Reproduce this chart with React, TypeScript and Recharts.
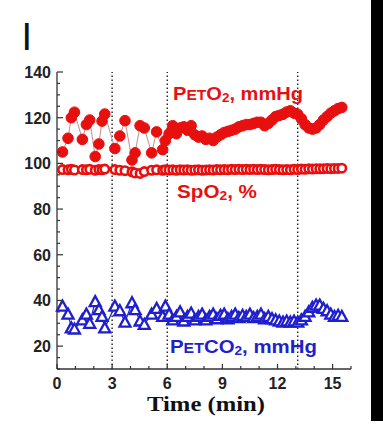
import React from 'react';
import { ComposedChart, Line, XAxis, YAxis, ReferenceLine } from 'recharts';

// time (min) of each breath sample
const time = [
    0.3, 0.6, 0.78, 0.95, 1.38, 1.6, 1.78, 2.08, 2.28, 2.45, 2.6, 3.15, 3.42, 3.7, 4.08, 4.25, 4.52, 4.75, 5.15, 5.42, 5.75, 5.9,
    6.1, 6.3, 6.5, 6.7, 6.9, 7.1, 7.3, 7.5, 7.7, 7.9, 8.1, 8.3, 8.5, 8.7, 8.9, 9.1, 9.3, 9.5, 9.7, 9.9,
    10.1, 10.3, 10.5, 10.7, 10.9, 11.1, 11.3, 11.5, 11.7, 11.9, 12.1, 12.3, 12.5, 12.7, 12.9, 13.1, 13.3, 13.5,
    13.7, 13.9, 14.1, 14.3, 14.5, 14.7, 14.9, 15.1, 15.3, 15.5
];

const peto2 = [
    105, 111, 120, 122.4, 110.5, 117, 119, 103, 108.5, 118.5, 121.6, 106.5, 112, 118.7, 101.5, 104.6, 116.5, 115.5, 104.6, 113.8, 106, 110,
    113, 116.5, 113, 115.5, 116, 114.5, 116.5, 112.5, 111.5, 112, 110.5, 111, 110, 111.5, 112.5, 113.5, 114, 114.5, 115, 116,
    116.5, 117, 117, 117.5, 118, 118, 116.5, 117.5, 119, 120.5, 121, 121.5, 122.5, 123, 122, 121.5, 119.5, 117,
    115.5, 115, 115.5, 117, 119, 120.5, 122, 123, 124, 124.5
];

const spo2 = [
    97.3, 97.2, 97.4, 97.1, 97.3, 97.2, 97.4, 97.0, 97.3, 97.2, 97.5, 97.3, 97.0, 96.8, 96.3, 95.8, 95.6, 96.4, 97.0, 97.2, 97.0, 97.2,
    97.1, 97.2, 97.0, 97.2, 97.1, 97.2, 97.0, 97.1, 97.2, 97.0, 97.1, 97.2, 97.1, 97.3, 97.2, 97.3, 97.2, 97.4, 97.3, 97.4,
    97.3, 97.4, 97.3, 97.4, 97.3, 97.4, 97.3, 97.2, 97.3, 97.4, 97.3, 97.2, 97.3, 97.2, 97.4, 97.3, 97.5, 97.4,
    97.6, 97.5, 97.7, 97.6, 97.7, 97.8, 97.7, 97.8, 97.8, 97.9
];

const petco2 = [
    37.5, 34, 28, 27.5, 31.5, 34, 30, 39.5, 36, 33, 28, 37.5, 35.5, 30.5, 39, 36, 31, 29.5, 34, 36.5, 33, 37.5,
    34, 31.5, 33, 35, 31, 33, 34.5, 31.5, 33, 34, 31.5, 33, 34, 32, 33.5, 34, 32, 33, 34, 32.5,
    33.5, 33, 34, 32.5, 33, 34, 32, 33, 32, 31.5, 31, 30.5, 31, 30.5, 31, 30.5, 31.5, 33,
    35, 37, 38, 38, 36.5, 35.5, 34, 33, 33.5, 33
];

const xTicks = [0, 1, 2, 3, 4, 5, 6, 7, 8, 9, 10, 11, 12, 13, 14, 15, 16];
const yTicks = [10, 15, 20, 25, 30, 35, 40, 45, 50, 55, 60, 65, 70, 75, 80, 85, 90, 95, 100, 105, 110, 115, 120, 125, 130, 135, 140];
const markTimes = [3, 6, 13.1];

const data = time.map((t, i) => ({ t, peto2: peto2[i], spo2: spo2[i], petco2: petco2[i] }));

const RED = '#e8100f';
const BLUE = '#1f1fd0';
const AXIS = '#333';
const sans = 'Liberation Sans, Arial, sans-serif';

const YTick = (props: any) => {
    const { x, y, payload } = props;
    const v = payload.value;
    const major = v % 20 === 0;
    return (
        <g>
            <line x1={x} x2={x + (major ? 6 : 3)} y1={y} y2={y} stroke={AXIS} strokeWidth={1.2} />
            {major && (
                <text x={x - 6} y={y + 6} textAnchor="end" fontFamily={sans} fontWeight="bold" fontSize={16} fill="#222">
                    {v}
                </text>
            )}
        </g>
    );
};

const XTick = (props: any) => {
    const { x, y, payload } = props;
    const v = payload.value;
    const major = v % 3 === 0 && v < 16;
    return (
        <g>
            <line x1={x} x2={x} y1={y} y2={y - (major ? 5 : 3)} stroke={AXIS} strokeWidth={1.2} />
            {major && (
                <text x={x} y={y + 20} textAnchor="middle" fontFamily={sans} fontWeight="bold" fontSize={16} fill="#222">
                    {v}
                </text>
            )}
        </g>
    );
};

const Triangle = (props: any) => {
    const { cx, cy } = props;
    if (cx == null || cy == null) return null;
    return (
        <polygon
            points={`${cx},${cy - 5.5} ${cx - 5.5},${cy + 4.5} ${cx + 5.5},${cy + 4.5}`}
            fill="#fff"
            stroke={BLUE}
            strokeWidth={2.3}
        />
    );
};

export default function App() {
    return (
        <div style={{ position: 'absolute', left: 0, top: 0, width: 383, height: 430, background: '#fff' }}>
            <ComposedChart width={383} height={430} data={data} margin={{ top: 72, right: 32, bottom: 31, left: 17 }}>
                <XAxis
                    dataKey="t"
                    type="number"
                    domain={[0, 16]}
                    ticks={xTicks}
                    interval={0}
                    tick={XTick}
                    tickSize={0}
                    tickMargin={0}
                    tickLine={false}
                    axisLine={{ stroke: AXIS, strokeWidth: 1.3 }}
                    height={30}
                />
                <YAxis
                    type="number"
                    domain={[10, 140]}
                    ticks={yTicks}
                    interval={0}
                    tick={YTick}
                    tickSize={0}
                    tickMargin={0}
                    tickLine={false}
                    axisLine={{ stroke: AXIS, strokeWidth: 1.3 }}
                    width={40}
                />
                {markTimes.map(m => (
                    <ReferenceLine key={m} x={m} stroke="#222" strokeWidth={1.4} strokeDasharray="1.5 2.5" />
                ))}
                <Line
                    dataKey="spo2"
                    stroke={RED}
                    strokeWidth={2.5}
                    dot={{ r: 4.2, fill: '#fff', stroke: RED, strokeWidth: 2.6 }}
                    isAnimationActive={false}
                />
                <Line
                    dataKey="peto2"
                    stroke="#c98a8a"
                    strokeWidth={1}
                    dot={{ r: 5.3, fill: RED, stroke: RED, strokeWidth: 1 }}
                    isAnimationActive={false}
                />
                <Line
                    dataKey="petco2"
                    stroke={BLUE}
                    strokeWidth={1.2}
                    dot={Triangle}
                    isAnimationActive={false}
                />
            </ComposedChart>
            <svg width={383} height={430} style={{ position: 'absolute', left: 0, top: 0, pointerEvents: 'none' }}>
                <text x={21.5} y={50} fontFamily={sans} fontSize={38} fill="#111">I</text>
                <text x={173} y={100} fontFamily={sans} fontWeight="bold" fill={RED} textLength={130} lengthAdjust="spacingAndGlyphs">
                    <tspan fontSize={18}>P</tspan>
                    <tspan fontSize={14}>ET</tspan>
                    <tspan fontSize={18}>O</tspan>
                    <tspan fontSize={12} dy={2}>2</tspan>
                    <tspan fontSize={18} dy={-2}>, mmHg</tspan>
                </text>
                <text x={177} y={198} fontFamily={sans} fontWeight="bold" fill={RED} textLength={80} lengthAdjust="spacingAndGlyphs">
                    <tspan fontSize={18}>SpO</tspan>
                    <tspan fontSize={12} dy={2}>2</tspan>
                    <tspan fontSize={18} dy={-2}>, %</tspan>
                </text>
                <text x={170} y={353} fontFamily={sans} fontWeight="bold" fill={BLUE} textLength={147} lengthAdjust="spacingAndGlyphs">
                    <tspan fontSize={18}>P</tspan>
                    <tspan fontSize={14}>ET</tspan>
                    <tspan fontSize={18}>CO</tspan>
                    <tspan fontSize={12} dy={2}>2</tspan>
                    <tspan fontSize={18} dy={-2}>, mmHg</tspan>
                </text>
                <text x={147} y={411} fontFamily="Liberation Serif, Times New Roman, serif" fontWeight="bold" fontSize={21} fill="#111" textLength={118} lengthAdjust="spacingAndGlyphs">
                    Time (min)
                </text>
                <rect x={371} y={0} width={12} height={421} fill="#000" />
            </svg>
        </div>
    );
}
